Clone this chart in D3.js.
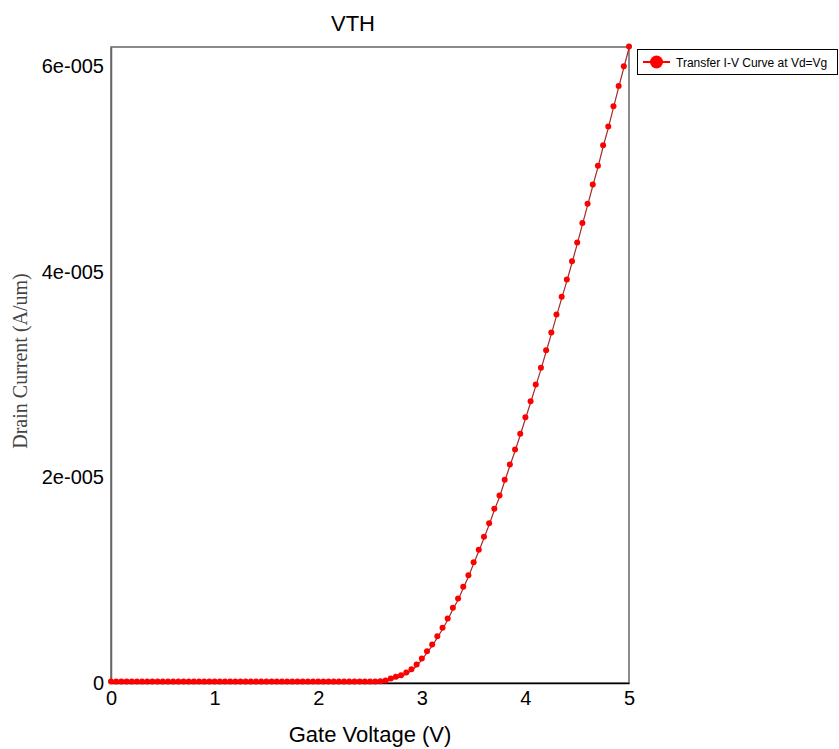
<!DOCTYPE html>
<html>
<head>
<meta charset="utf-8">
<script src="https://cdn.jsdelivr.net/npm/d3@7"></script>
<style>
  body { margin: 0; background: #fff; }
  svg { display: block; }
</style>
</head>
<body>
<div id="chart"></div>
<script>
// gate voltage sweep (V)
var gateVoltage = [
  0.00, 0.05, 0.10, 0.15, 0.20, 0.25, 0.30, 0.35, 0.40, 0.45,
  0.50, 0.55, 0.60, 0.65, 0.70, 0.75, 0.80, 0.85, 0.90, 0.95,
  1.00, 1.05, 1.10, 1.15, 1.20, 1.25, 1.30, 1.35, 1.40, 1.45,
  1.50, 1.55, 1.60, 1.65, 1.70, 1.75, 1.80, 1.85, 1.90, 1.95,
  2.00, 2.05, 2.10, 2.15, 2.20, 2.25, 2.30, 2.35, 2.40, 2.45,
  2.50, 2.55, 2.60, 2.65, 2.70, 2.75, 2.80, 2.85, 2.90, 2.95,
  3.00, 3.05, 3.10, 3.15, 3.20, 3.25, 3.30, 3.35, 3.40, 3.45,
  3.50, 3.55, 3.60, 3.65, 3.70, 3.75, 3.80, 3.85, 3.90, 3.95,
  4.00, 4.05, 4.10, 4.15, 4.20, 4.25, 4.30, 4.35, 4.40, 4.45,
  4.50, 4.55, 4.60, 4.65, 4.70, 4.75, 4.80, 4.85, 4.90, 4.95,
  5.00
];

// drain current (A/um)
var drainCurrent = [
  0, 0, 0, 0, 0, 0, 0, 0, 0, 0,
  0, 0, 0, 0, 0, 0, 0, 0, 0, 0,
  0, 0, 0, 0, 0, 0, 0, 0, 0, 0,
  0, 0, 0, 0, 0, 0, 0, 0, 0, 0,
  0, 0, 0, 0, 0, 0, 0, 0, 0, 0,
  0, 0, 0.02e-6, 0.10e-6, 0.29e-6, 0.46e-6, 0.61e-6, 0.88e-6, 1.20e-6, 1.65e-6,
  2.24e-6, 2.95e-6, 3.60e-6, 4.41e-6, 5.23e-6, 6.13e-6, 7.17e-6, 8.08e-6, 9.22e-6, 10.35e-6,
  11.61e-6, 12.82e-6, 14.08e-6, 15.41e-6, 16.81e-6, 18.10e-6, 19.63e-6, 21.12e-6, 22.58e-6, 24.11e-6,
  25.72e-6, 27.28e-6, 28.90e-6, 30.53e-6, 32.24e-6, 33.96e-6, 35.71e-6, 37.44e-6, 39.12e-6, 40.90e-6,
  42.72e-6, 44.62e-6, 46.49e-6, 48.37e-6, 50.19e-6, 52.19e-6, 54.01e-6, 55.99e-6, 57.97e-6, 59.88e-6,
  61.80e-6
];

var xTicks = [0, 1, 2, 3, 4, 5];
var yTicks = [0, 2e-5, 4e-5, 6e-5];
var yTickLabels = ["0", "2e-005", "4e-005", "6e-005"];
var seriesName = "Transfer I-V Curve at Vd=Vg";

var width = 839,
    height = 749;
var margin = {left: 111, right: 210, top: 47, bottom: 66};

var svg = d3.select("#chart")
  .append("svg")
  .attr("width", width)
  .attr("height", height);

var x = d3.scaleLinear()
  .domain([0, 5])
  .range([margin.left, width - margin.right]);

var y = d3.scaleLinear()
  .domain([0, 6.19e-5])
  .range([height - margin.bottom, margin.top]);

// plot frame
svg.append("rect")
  .attr("x", x(0))
  .attr("y", y(6.19e-5))
  .attr("width", x(5) - x(0))
  .attr("height", y(0) - y(6.19e-5))
  .style("fill", "none")
  .style("stroke", "#666")
  .style("stroke-width", 1.5);

// x axis
var xAxis = svg.append("g")
  .attr("transform", "translate(0," + y(0) + ")")
  .call(d3.axisBottom(x).tickValues(xTicks).tickSize(0).tickPadding(8).tickFormat(d3.format("d")));
xAxis.select(".domain").style("stroke", "#000").style("stroke-width", 1.5);
xAxis.selectAll("text")
  .style("font-family", "Arial, 'Liberation Sans', sans-serif")
  .style("font-size", "20px")
  .style("fill", "#000");

// y axis
var yAxis = svg.append("g")
  .attr("transform", "translate(" + x(0) + ",0)")
  .call(d3.axisLeft(y).tickValues(yTicks).tickSize(0).tickPadding(7)
    .tickFormat(function(d, i) { return yTickLabels[i]; }));
yAxis.select(".domain").style("stroke", "#666").style("stroke-width", 1.5);
yAxis.selectAll("text")
  .style("font-family", "Arial, 'Liberation Sans', sans-serif")
  .style("font-size", "20px")
  .style("fill", "#000");

// curve
var line = d3.line()
  .x(function(d, i) { return x(gateVoltage[i]); })
  .y(function(d) { return y(d); });

svg.append("path")
  .datum(drainCurrent)
  .attr("d", line)
  .style("fill", "none")
  .style("stroke", "#a52a2a")
  .style("stroke-width", 1.2);

svg.selectAll(".dot")
  .data(drainCurrent)
  .enter()
  .append("circle")
  .attr("class", "dot")
  .attr("cx", function(d, i) { return x(gateVoltage[i]); })
  .attr("cy", function(d) { return y(d) - 1.5; })
  .attr("r", 3)
  .style("fill", "#f00");

// titles
svg.append("text")
  .attr("x", 353)
  .attr("y", 31)
  .attr("text-anchor", "middle")
  .style("font-family", "Arial, 'Liberation Sans', sans-serif")
  .style("font-size", "22px")
  .text("VTH");

svg.append("text")
  .attr("x", (x(0) + x(5)) / 2)
  .attr("y", 742)
  .attr("text-anchor", "middle")
  .style("font-family", "Arial, 'Liberation Sans', sans-serif")
  .style("font-size", "22px")
  .text("Gate Voltage (V)");

svg.append("text")
  .attr("transform", "translate(27,361) rotate(-90)")
  .attr("text-anchor", "middle")
  .style("font-family", "'Times New Roman', 'Liberation Serif', serif")
  .style("font-size", "20px")
  .style("fill", "#444")
  .text("Drain Current (A/um)");

// legend
var legend = svg.append("g");
legend.append("rect")
  .attr("x", 637.5)
  .attr("y", 49.5)
  .attr("width", 200)
  .attr("height", 25)
  .style("fill", "#fff")
  .style("stroke", "#000");
legend.append("line")
  .attr("x1", 643).attr("x2", 670)
  .attr("y1", 62).attr("y2", 62)
  .style("stroke", "#f00")
  .style("stroke-width", 2);
legend.append("circle")
  .attr("cx", 656.5).attr("cy", 62).attr("r", 6.5)
  .style("fill", "#f00");
legend.append("text")
  .attr("x", 676)
  .attr("y", 66.5)
  .style("font-family", "Arial, 'Liberation Sans', sans-serif")
  .style("font-size", "12px")
  .text(seriesName);
</script>
</body>
</html>
